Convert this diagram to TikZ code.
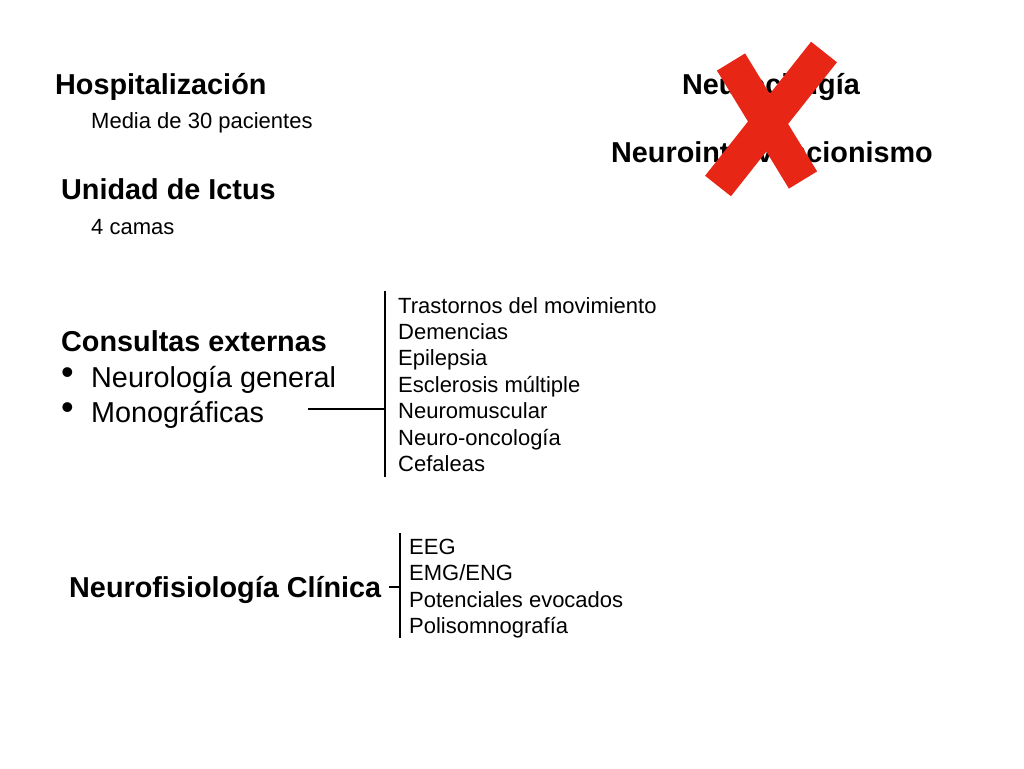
\documentclass[tikz,border=0pt]{standalone}
\usepackage{fontspec}
\setmainfont{Liberation Sans}
\usepackage{tikz}
\usetikzlibrary{positioning, calc}
\definecolor{tachado}{RGB}{232,38,22}

\begin{document}
\begin{tikzpicture}[
    x=1pt, y=-1pt,
    titulo/.style={font=\fontsize{28.8}{34}\selectfont\bfseries, inner sep=0pt, anchor=base west},
    item/.style={font=\fontsize{28.8}{34}\selectfont, inner sep=0pt, anchor=base west},
    nota/.style={font=\fontsize{22}{26.4}\selectfont, inner sep=0pt, anchor=base west},
    lista/.style={font=\fontsize{22}{26.4}\selectfont, inner sep=0pt, anchor=north west, align=left},
    linea/.style={draw, line width=1.3pt},
    cruz/.style={draw=tachado, line width=33pt, line cap=butt, line join=round},
]
\useasboundingbox (0,0) rectangle (1024,768);

% ── Hospitalización ──
\node[titulo] (hosp) at (55,94) {Hospitalización};
\node[nota] (media) at (91,128) {Media de 30 pacientes};

% ── Unidad de Ictus ──
\node[titulo] (ictus) at (61,199) {Unidad de Ictus};
\node[nota] (camas) at (91,234) {4 camas};

% ── Neurocirugía / Neurointervencionismo (tachado) ──
\node[titulo, anchor=base] (neurocir) at (771,94) {Neurocirugía};
\node[titulo, anchor=base] (neuroint) at (772,162) {Neurointervencionismo};
\draw[cruz] (731,62) -- (803,180);
\draw[cruz] (824,52) -- (718,186);

% ── Consultas externas ──
\node[titulo] (consultas) at (61,351) {Consultas externas};
\node[item] (general) at (61,387)
    {\makebox[30pt][l]{\raisebox{3pt}{\scalebox{1.25}{\textbullet}}}Neurología general};
\node[item] (mono) at (61,422)
    {\makebox[30pt][l]{\raisebox{3pt}{\scalebox{1.25}{\textbullet}}}Monográficas};

\node[lista] (espec) at (398,297) {Trastornos del movimiento\\Demencias\\Epilepsia\\Esclerosis múltiple\\Neuromuscular\\Neuro-oncología\\Cefaleas};

\coordinate (monoEnd) at (308,409);
\coordinate (especTop) at (385,291);
\coordinate (especBot) at (385,477);
\draw[linea] (especTop) -- (especBot);
\draw[linea] (monoEnd) -- (monoEnd -| especTop);

% ── Neurofisiología Clínica ──
\node[titulo] (neurofis) at (69,597) {Neurofisiología Clínica};
\node[lista] (pruebas) at (409,539) {EEG\\EMG/ENG\\Potenciales evocados\\Polisomnografía};

\coordinate (pruebasTop) at (400,533);
\coordinate (pruebasBot) at (400,638);
\draw[linea] (pruebasTop) -- (pruebasBot);
\draw[linea] ([xshift=8pt]neurofis.east |- 0,587) -- (pruebasTop |- 0,587);

\end{tikzpicture}
\end{document}
